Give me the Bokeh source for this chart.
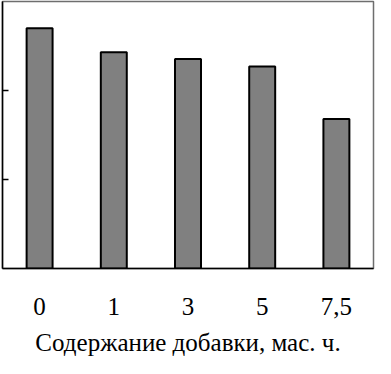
from bokeh.plotting import figure
from bokeh.models import FactorRange, Range1d, FixedTicker, ColumnDataSource
from bokeh.embed import file_html
from bokeh.resources import INLINE

categories = ["0", "1", "3", "5", "7,5"]
values = [2.70, 2.43, 2.355, 2.27, 1.68]
y_ticks = [1, 2]

SERIF = "Liberation Serif"

source = ColumnDataSource(data=dict(cat=categories, val=values))

p = figure(width=375, height=358, output_backend="svg", toolbar_location=None,
           x_range=FactorRange(*categories, range_padding=0), y_range=Range1d(0, 3),
           min_border_left=2, min_border_right=2, min_border_top=1, min_border_bottom=0)

p.vbar(x="cat", top="val", width=0.35, source=source,
       fill_color="#808080", line_color="black", line_width=2)

p.xgrid.visible = False
p.ygrid.visible = False
p.outline_line_color = "#6e6e6e"
p.outline_line_width = 1.5

# y axis: inward ticks, no labels
p.yaxis.ticker = FixedTicker(ticks=y_ticks)
p.yaxis.major_label_overrides = {1: "", 2: ""}
p.yaxis.major_label_standoff = 0
p.yaxis.major_tick_in = 6
p.yaxis.major_tick_out = 0
p.yaxis.minor_tick_line_color = None
p.yaxis.axis_line_color = "black"
p.yaxis.axis_line_width = 1.5
p.yaxis.major_tick_line_width = 1.5

# x axis
p.xaxis.axis_line_color = "black"
p.xaxis.axis_line_width = 1.5
p.xaxis.major_tick_line_color = None
p.xaxis.minor_tick_line_color = None
p.xaxis.major_label_text_font = SERIF
p.xaxis.major_label_text_font_size = "25px"
p.xaxis.major_label_text_color = "black"
p.xaxis.major_label_standoff = 23
p.xaxis.axis_label = "Содержание добавки, мас. ч."
p.xaxis.axis_label_text_font = SERIF
p.xaxis.axis_label_text_font_size = "25px"
p.xaxis.axis_label_text_font_style = "normal"
p.xaxis.axis_label_text_color = "black"
p.xaxis.axis_label_standoff = 11

open("out.html", "w").write(file_html(p, INLINE))
